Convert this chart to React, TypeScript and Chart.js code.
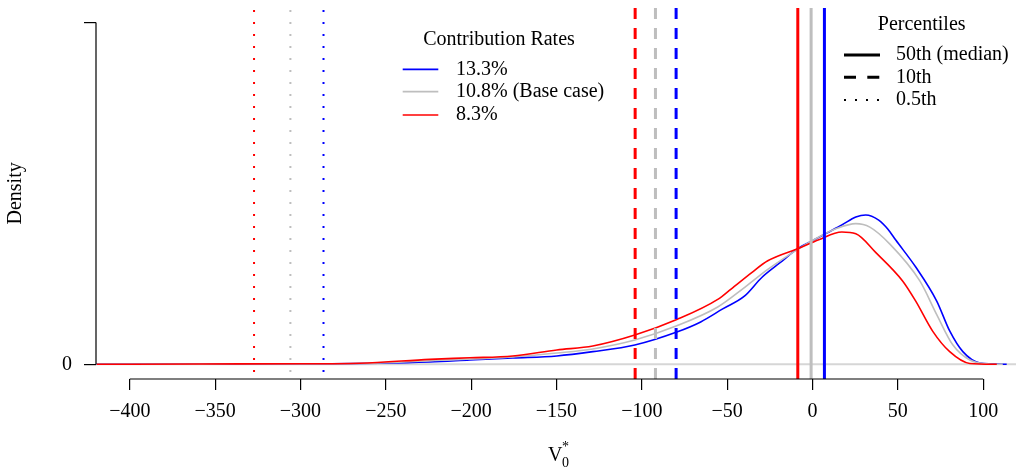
import React, { useEffect, useRef } from "react";
import { Chart, registerables } from "chart.js";

Chart.register(...registerables);

// ---- Data ----
const rateLabels = ["13.3%", "10.8% (Base case)", "8.3%"];
const rateColors = ["#0000FF", "#BEBEBE", "#FF0000"];

const blueX = [-419.4, -359, -300, -253.5, -224.2, -200.8, -175.6, -149.8, -128.7, -104.1, -79.5, -65.5, -52.6, -39.7, -29.7, -19.2, -8.0, 0.2, 8.4, 17.2, 25.4, 31.2, 38.8, 44.1, 48.8, 60.5, 72.8, 80.4, 88.1, 98.1, 113.8];
const blueY = [0, 0.00001, 0.00002, 0.00006, 0.000135, 0.00025, 0.00037, 0.00049, 0.00074, 0.00113, 0.00189, 0.00248, 0.00324, 0.0040, 0.00508, 0.00593, 0.00681, 0.00724, 0.00768, 0.00815, 0.00862, 0.00874, 0.00844, 0.00792, 0.00727, 0.00569, 0.0037, 0.00195, 0.00074, 0.00008, 0];

const grayX = [-419.4, -359, -300.4, -253.5, -224.2, -175.6, -149.8, -128.7, -104.1, -79.5, -55.5, -39.7, -26.2, -7.5, 3.7, 13.7, 25.4, 33.6, 45.2, 62.9, 72.8, 82.2, 92.2, 103.9, 111.5];
const grayY = [0, 0.000012, 0.000023, 0.00008, 0.00021, 0.00043, 0.00066, 0.0009, 0.00142, 0.00225, 0.00335, 0.0045, 0.00555, 0.0068, 0.00745, 0.00793, 0.00823, 0.00803, 0.00705, 0.00488, 0.00291, 0.00114, 0.00025, 0.00002, 0];

const redX = [-419.4, -359, -300.4, -265.2, -224.2, -200.8, -175.6, -149.8, -128.7, -104.1, -79.5, -55.5, -47.9, -35.6, -26.2, -7.5, 3.7, 17.2, 25.4, 37.0, 52.8, 60.5, 70.5, 80.4, 92.2, 108.0];
const redY = [0, 0.00002, 0.00003, 0.00006, 0.00029, 0.00038, 0.00049, 0.00084, 0.00107, 0.00171, 0.00262, 0.0038, 0.00439, 0.00537, 0.00606, 0.00681, 0.00729, 0.00774, 0.00764, 0.00655, 0.00488, 0.0037, 0.00193, 0.00074, 0.00005, 0];

// percentiles in order blue, gray, red
const medians = [7.0, -0.8, -8.6];
const p10 = [-79.9, -92.0, -103.9];
const p05 = [-286.5, -305.9, -327.2];
const percentileLabels = ["50th (median)", "10th", "0.5th"];

const xTicks = [-400, -350, -300, -250, -200, -150, -100, -50, 0, 50, 100];
const yTicks = [0, 0.02];
const yTickLabels = ["0", ""];

const X_MIN = -419.8;
const X_MAX = 119.25;
const Y_MIN = -0.00086;
const Y_MAX = 0.02085;

const FONT = '"Liberation Serif", "Times New Roman", serif';

const curves = [
  { xs: blueX, ys: blueY },
  { xs: grayX, ys: grayY },
  { xs: redX, ys: redY },
];

function vline(v: number, color: string, dash: number[], width: number, offset: number) {
  return {
    data: [
      { x: v, y: Y_MAX },
      { x: v, y: Y_MIN },
    ],
    showLine: true,
    borderColor: color,
    borderWidth: width,
    borderDash: dash,
    borderDashOffset: offset,
    borderCapStyle: "butt" as const,
    pointRadius: 0,
    order: 1,
  };
}

const decorPlugin = {
  id: "decor",
  afterDraw(chart: any) {
    const ctx = chart.ctx as CanvasRenderingContext2D;
    const xs = chart.scales.x;
    const ys = chart.scales.y;
    const ca = chart.chartArea;
    ctx.save();
    // axis lines
    ctx.strokeStyle = "#000";
    ctx.lineWidth = 1.2;
    ctx.beginPath();
    ctx.moveTo(xs.getPixelForValue(xTicks[0]), ca.bottom);
    ctx.lineTo(xs.getPixelForValue(xTicks[xTicks.length - 1]), ca.bottom);
    ctx.moveTo(ca.left, ys.getPixelForValue(yTicks[yTicks.length - 1]));
    ctx.lineTo(ca.left, ys.getPixelForValue(yTicks[0]));
    ctx.stroke();

    ctx.fillStyle = "#000";
    ctx.font = `20px ${FONT}`;
    // y title
    ctx.save();
    ctx.translate(15.5, (ys.getPixelForValue(0) + ys.getPixelForValue(0.02)) / 2);
    ctx.rotate(-Math.PI / 2);
    ctx.textAlign = "center";
    ctx.textBaseline = "middle";
    ctx.fillText("Density", 0, 0);
    ctx.restore();

    // x title V_0^*
    ctx.textAlign = "left";
    ctx.textBaseline = "alphabetic";
    ctx.font = `20px ${FONT}`;
    ctx.fillText("V", 548, 461);
    ctx.font = `14px ${FONT}`;
    ctx.fillText("*", 562, 451);
    ctx.fillText("0", 562, 467);

    // Contribution rates legend
    ctx.font = `20px ${FONT}`;
    ctx.textBaseline = "middle";
    ctx.textAlign = "center";
    ctx.fillText("Contribution Rates", 499, 40);
    ctx.textAlign = "left";
    const rowsA = [69.3, 91.7, 115];
    rateLabels.forEach((lab, i) => {
      ctx.strokeStyle = rateColors[i];
      ctx.lineWidth = 1.7;
      ctx.setLineDash([]);
      ctx.beginPath();
      ctx.moveTo(402.7, rowsA[i]);
      ctx.lineTo(438.3, rowsA[i]);
      ctx.stroke();
      ctx.fillText(lab, 456, rowsA[i]);
    });

    // Percentiles legend
    ctx.textAlign = "center";
    ctx.fillText("Percentiles", 921.7, 25);
    ctx.textAlign = "left";
    const rowsB = [55, 77.3, 100];
    const dashes = [[], [12, 11.3], [2, 9]];
    const widths = [3, 3, 2];
    percentileLabels.forEach((lab, i) => {
      ctx.strokeStyle = "#000";
      ctx.lineWidth = widths[i];
      ctx.lineCap = "butt";
      ctx.setLineDash(dashes[i]);
      ctx.beginPath();
      ctx.moveTo(844, rowsB[i]);
      ctx.lineTo(880, rowsB[i]);
      ctx.stroke();
      ctx.setLineDash([]);
      ctx.fillText(lab, 896, rowsB[i]);
    });
    ctx.restore();
  },
};

export default function App() {
  const ref = useRef<HTMLCanvasElement>(null);
  useEffect(() => {
    const datasets: any[] = [];
    // zero line
    datasets.push({
      data: [
        { x: X_MIN, y: 0 },
        { x: X_MAX, y: 0 },
      ],
      showLine: true,
      borderColor: "#D6D6D6",
      borderWidth: 2,
      pointRadius: 0,
      order: 4,
    });
    curves.forEach((c, i) => {
      datasets.push({
        data: c.xs.map((x, j) => ({ x, y: c.ys[j] })),
        showLine: true,
        borderColor: rateColors[i],
        borderWidth: 1.6,
        pointRadius: 0,
        cubicInterpolationMode: "monotone",
        order: 3 - i * 0.5,
      });
    });
    [0, 1, 2].forEach((i) => {
      datasets.push(vline(p05[i], rateColors[i], [2, 10], 2, -2));
      datasets.push(vline(p10[i], rateColors[i], [11, 9], 3, 0));
      datasets.push(vline(medians[i], rateColors[i], [], 3, 0));
    });

    const chart = new Chart(ref.current as HTMLCanvasElement, {
      type: "scatter",
      data: { datasets },
      plugins: [decorPlugin],
      options: {
        responsive: false,
        animation: false,
        events: [],
        layout: { padding: { top: 8, left: 0, right: 0, bottom: 0 } },
        plugins: { legend: { display: false }, tooltip: { enabled: false } },
        scales: {
          x: {
            type: "linear",
            position: "bottom",
            min: X_MIN,
            max: X_MAX,
            afterBuildTicks: (s: any) => {
              s.ticks = xTicks.map((v) => ({ value: v }));
            },
            afterFit: (s: any) => {
              s.height = 88;
              s.paddingLeft = 0;
              s.paddingRight = 0;
              s.paddingTop = 0;
              s.paddingBottom = 0;
            },
            grid: { drawOnChartArea: false, drawTicks: true, tickLength: 11, color: "#000", lineWidth: 1.2 },
            border: { display: false },
            ticks: {
              color: "#000",
              font: { family: FONT, size: 20 },
              padding: 10,
              maxRotation: 0,
              autoSkip: false,
              callback: (v: any) => (v < 0 ? "\u2212" + Math.abs(v) : String(v)),
            },
          },
          y: {
            type: "linear",
            min: Y_MIN,
            max: Y_MAX,
            afterBuildTicks: (s: any) => {
              s.ticks = yTicks.map((v) => ({ value: v }));
            },
            afterFit: (s: any) => {
              s.width = 96;
              s.paddingLeft = 0;
              s.paddingRight = 0;
              s.paddingTop = 0;
              s.paddingBottom = 0;
            },
            grid: { drawOnChartArea: false, drawTicks: true, tickLength: 12, color: "#000", lineWidth: 1.2 },
            border: { display: false },
            ticks: {
              color: "#000",
              font: { family: FONT, size: 20 },
              padding: 12,
              autoSkip: false,
              callback: (_v: any, i: number) => yTickLabels[i],
            },
          },
        },
      },
    } as any);
    return () => chart.destroy();
  }, []);
  return (
    <div style={{ position: "fixed", left: 0, top: 0, width: 1016, height: 467, background: "#fff" }}>
      <canvas ref={ref} width={1016} height={467} style={{ display: "block" }} />
    </div>
  );
}
